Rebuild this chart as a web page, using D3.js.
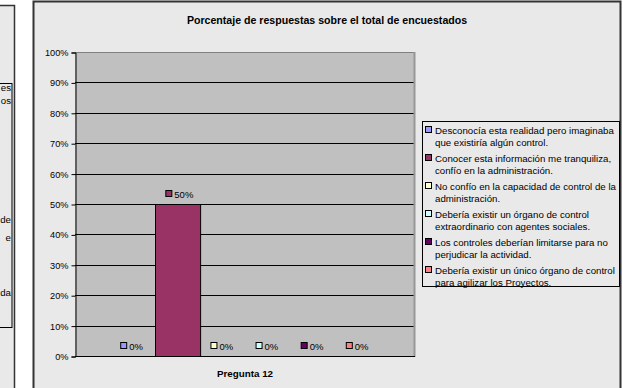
<!DOCTYPE html>
<html><head><meta charset="utf-8">
<script src="https://cdn.jsdelivr.net/npm/d3@7"></script>
<style>
body{margin:0;background:#fff;}
svg{display:block;font-family:"Liberation Sans",Arial,sans-serif;}
</style></head>
<body><svg id="c" width="623" height="388"></svg>
<script>
const title = "Porcentaje de respuestas sobre el total de encuestados";
const categories = ["Pregunta 12"];
const seriesNames = [
  ["Desconocía esta realidad pero imaginaba", "que existiría algún control."],
  ["Conocer esta información me tranquiliza,", "confío en la administración."],
  ["No confío en la capacidad de control de la", "administración."],
  ["Debería existir un órgano de control", "extraordinario con agentes sociales."],
  ["Los controles deberían limitarse para no", "perjudicar la actividad."],
  ["Debería existir un único órgano de control", "para agilizar los Proyectos."]
];
const seriesValues = [0, 0.5, 0, 0, 0, 0];
const seriesColors = ["#9999FF", "#993366", "#FFFFCC", "#CCFFFF", "#660066", "#FF8080"];
const yTicks = [0, 0.1, 0.2, 0.3, 0.4, 0.5, 0.6, 0.7, 0.8, 0.9, 1.0];
const leftFragments = [["es", 91], ["os", 104], ["de", 223], ["e", 241], ["da", 296]];

const svg = d3.select("#c");
const fmt = d3.format(".0%");

// left partial chart
svg.append("rect").attr("x", -10).attr("y", 5.5).attr("width", 24.5).attr("height", 400)
  .attr("fill", "#e9e9e9").attr("stroke", "#333").attr("stroke-width", 1.5);
svg.append("rect").attr("x", -50).attr("y", 83.5).attr("width", 62).attr("height", 244)
  .attr("fill", "#e9e9e9").attr("stroke", "#000").attr("stroke-width", 1);
svg.selectAll("text.frag").data(leftFragments).join("text").attr("class", "frag")
  .attr("x", 11).attr("y", d => d[1]).attr("text-anchor", "end")
  .attr("font-size", 9.7).attr("fill", "#000").text(d => d[0]);

// main panel
svg.append("rect").attr("x", 33.5).attr("y", 1.5).attr("width", 587).attr("height", 420)
  .attr("fill", "#e9e9e9").attr("stroke", "#333").attr("stroke-width", 2);

svg.append("text").attr("x", 327).attr("y", 24).attr("text-anchor", "middle")
  .attr("font-size", 10.6).attr("font-weight", "bold").text(title);

const plot = {l: 75, r: 415, t: 52, b: 356};
const y = d3.scaleLinear().domain([0, 1]).range([plot.b, plot.t]);
const x0 = d3.scaleBand().domain(categories).range([plot.l, plot.r]).paddingInner(0).paddingOuter(0.128);
const x1 = d3.scaleBand().domain(d3.range(seriesValues.length)).range([0, x0.bandwidth()]);

svg.append("rect").attr("x", plot.l).attr("y", plot.t).attr("width", plot.r - plot.l).attr("height", plot.b - plot.t)
  .attr("fill", "#c0c0c0");
// gridlines
svg.append("g").selectAll("line").data(yTicks.filter(d => d > 0 && d < 1)).join("line")
  .attr("x1", plot.l).attr("x2", plot.r).attr("y1", d => Math.round(y(d)) + 0.5).attr("y2", d => Math.round(y(d)) + 0.5)
  .attr("stroke", "#000").attr("stroke-width", 1);
// plot border (grey shadowed)
svg.append("line").attr("x1", plot.l).attr("x2", plot.r).attr("y1", plot.t + 0.5).attr("y2", plot.t + 0.5).attr("stroke", "#808080").attr("stroke-width", 1);
svg.append("line").attr("x1", plot.r - 0.5).attr("x2", plot.r - 0.5).attr("y1", plot.t).attr("y2", plot.b + 1).attr("stroke", "#969696").attr("stroke-width", 2);

// bars
const cat = categories[0];
svg.append("g").selectAll("rect").data(seriesValues.map((v, i) => ({v, i}))).join("rect")
  .attr("x", d => Math.round(x0(cat) + x1(d.i)) + 0.5)
  .attr("width", x1.bandwidth())
  .attr("y", d => y(d.v) + 0.5)
  .attr("height", d => y(0) - y(d.v))
  .attr("fill", d => seriesColors[d.i])
  .attr("stroke", d => d.v > 0 ? "#000" : "none").attr("stroke-width", 1);

// x axis line
svg.append("line").attr("x1", plot.l).attr("x2", plot.r).attr("y1", plot.b + 0.5).attr("y2", plot.b + 0.5).attr("stroke", "#000");

// y axis
const yAxis = d3.axisLeft(y).tickValues(yTicks).tickFormat(fmt).tickSize(4).tickPadding(3);
const gy = svg.append("g").attr("transform", `translate(${plot.l + 0.5},0.5)`).call(yAxis);
gy.select(".domain").attr("stroke", "#000");
gy.selectAll(".tick line").attr("stroke", "#000");
gy.selectAll(".tick text").attr("font-size", 9.2).attr("fill", "#000").attr("font-family", "Liberation Sans, Arial, sans-serif");

// data labels with legend keys
const lab = svg.append("g").selectAll("g").data(seriesValues.map((v, i) => ({v, i}))).join("g")
  .attr("transform", d => `translate(${x0(cat) + x1(d.i) + x1.bandwidth() / 2},${y(d.v) - 10})`);
lab.append("rect").attr("x", -11.5).attr("y", -3.5).attr("width", 6).attr("height", 6)
  .attr("fill", d => seriesColors[d.i]).attr("stroke", "#000").attr("stroke-width", 1);
lab.append("text").attr("x", -3).attr("y", 3.5).attr("font-size", 9.5).attr("fill", "#000")
  .text(d => fmt(d.v));

// category label
svg.append("text").attr("x", (plot.l + plot.r) / 2).attr("y", 377).attr("text-anchor", "middle")
  .attr("font-size", 9.8).attr("font-weight", "bold").text(cat);

// legend
svg.append("rect").attr("x", 422.5).attr("y", 121.5).attr("width", 197).attr("height", 165)
  .attr("fill", "#e9e9e9").attr("stroke", "#000").attr("stroke-width", 1);
const lg = svg.append("g").selectAll("g").data(seriesNames.map((n, i) => ({n, i}))).join("g")
  .attr("transform", d => `translate(425,${130 + d.i * 28})`);
lg.append("rect").attr("x", 0.5).attr("y", -3.5).attr("width", 6).attr("height", 6)
  .attr("fill", d => seriesColors[d.i]).attr("stroke", "#000").attr("stroke-width", 1);
lg.append("text").attr("x", 10).attr("y", 3.5).attr("font-size", 9.7).attr("fill", "#000")
  .selectAll("tspan").data(d => d.n).join("tspan")
  .attr("x", 10).attr("dy", (d, j) => j === 0 ? 0 : 12.7).text(d => d);
</script></body></html>
